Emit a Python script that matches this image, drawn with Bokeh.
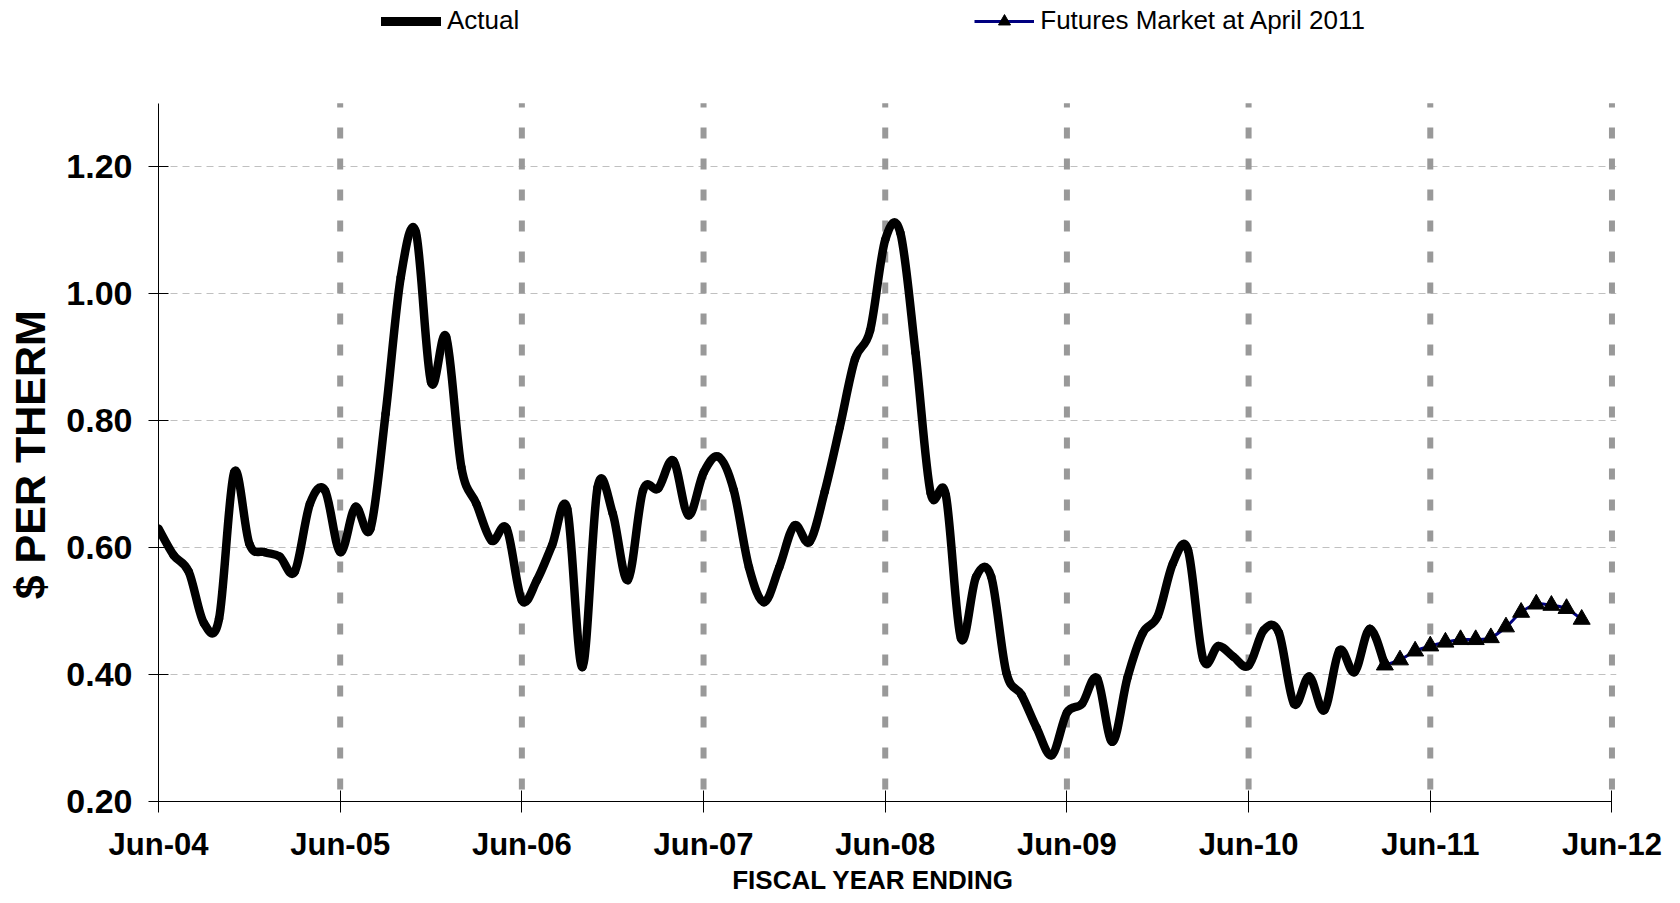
import numpy as np
from bokeh.plotting import figure
from bokeh.models import (FixedTicker, Legend, LegendItem, Range1d,
                          NumeralTickFormatter)
from bokeh.embed import file_html
from bokeh.resources import INLINE

# ---------------- data (months counted from Jun-2004) ----------------
actual_month = list(range(0, 82))
actual_price = [
    0.630, 0.588, 0.562, 0.481, 0.488, 0.719, 0.606, 0.593, 0.586, 0.562,
    0.669, 0.690, 0.593, 0.664, 0.630, 0.811, 1.026, 1.097, 0.861, 0.932,
    0.727, 0.669, 0.611, 0.630, 0.517, 0.549, 0.604, 0.661, 0.412, 0.695,
    0.654, 0.549, 0.690, 0.693, 0.737, 0.651, 0.718, 0.743, 0.690, 0.569,
    0.514, 0.569, 0.635, 0.609, 0.688, 0.790, 0.897, 0.942, 1.085, 1.096,
    0.907, 0.686, 0.683, 0.457, 0.554, 0.554, 0.403, 0.368, 0.316, 0.273,
    0.340, 0.354, 0.394, 0.294, 0.395, 0.465, 0.492, 0.575, 0.596, 0.424,
    0.445, 0.428, 0.414, 0.470, 0.466, 0.354, 0.397, 0.344, 0.438, 0.404,
    0.472, 0.415,
]
futures_month = list(range(81, 95))
futures_price = [0.415, 0.423, 0.437, 0.445, 0.451, 0.455, 0.455, 0.458,
                 0.475, 0.498, 0.511, 0.509, 0.504, 0.487]

tick_months = [0, 12, 24, 36, 48, 60, 72, 84, 96]
tick_labels = ["Jun-04", "Jun-05", "Jun-06", "Jun-07", "Jun-08",
               "Jun-09", "Jun-10", "Jun-11", "Jun-12"]
year_marks = tick_months[1:]
y_ticks = [0.2, 0.4, 0.6, 0.8, 1.0, 1.2]
y_grid = [0.4, 0.6, 0.8, 1.0, 1.2]
y_axis_span = (0.2, 1.3)
x_axis_span = (0, 96)

FONT = "Liberation Sans"
NB = "\u00a0"


def smooth_segments(xs, ys):
    """Catmull-Rom style bezier control points (Excel-like smoothing)."""
    x = np.asarray(xs, float)
    y = np.asarray(ys, float)
    xm = np.concatenate([[x[0]], x[:-2]])
    ym = np.concatenate([[y[0]], y[:-2]])
    x2 = np.concatenate([x[2:], [x[-1]]])
    y2 = np.concatenate([y[2:], [y[-1]]])
    x0, y0, x1, y1 = x[:-1], y[:-1], x[1:], y[1:]
    cx0 = x0 + (x1 - xm) / 6.0
    cy0 = y0 + (y1 - ym) / 6.0
    cx1 = x1 - (x2 - x0) / 6.0
    cy1 = y1 - (y2 - y0) / 6.0
    return dict(x0=x0, y0=y0, x1=x1, y1=y1, cx0=cx0, cy0=cy0, cx1=cx1, cy1=cy1)


# frame runs to the top of the canvas so that the legend can sit inside it;
# axis lines are bounded to the 0.20 - 1.30 / Jun-04 - Jun-12 spans
p = figure(width=1680, height=903,
           x_range=Range1d(0, 96.3), y_range=Range1d(0.2, 1.462),
           output_backend="svg", toolbar_location=None,
           min_border_left=158, min_border_right=64,
           min_border_top=0, min_border_bottom=102)
p.outline_line_color = None
p.background_fill_color = "white"
p.border_fill_color = "white"

# horizontal grid
p.ygrid.ticker = FixedTicker(ticks=y_grid)
p.ygrid.grid_line_color = "#c0c0c0"
p.ygrid.grid_line_width = 1
p.ygrid.grid_line_dash = "7 5"
p.xgrid.grid_line_color = None

# vertical year separators (thick grey dashes) between 0.20 and 1.30
n_marks = len(year_marks)
p.segment(x0=year_marks, y0=[y_axis_span[0]] * n_marks,
          x1=year_marks, y1=[y_axis_span[1]] * n_marks,
          line_color="#999999", line_width=6,
          line_dash="11 20", line_dash_offset=19)

# x axis
xa = p.xaxis[0]
xa.bounds = x_axis_span
xa.ticker = FixedTicker(ticks=tick_months)
xa.major_label_overrides = {m: l for m, l in zip(tick_months, tick_labels)}
xa.minor_tick_line_color = None
xa.major_tick_in = 11
xa.major_tick_out = 11
xa.axis_line_color = "black"
xa.major_tick_line_color = "black"
xa.major_label_text_font = FONT
xa.major_label_text_font_style = "bold"
xa.major_label_text_font_size = "31px"
xa.major_label_text_color = "black"
xa.major_label_standoff = 14
xa.axis_label = "FISCAL YEAR ENDING" + NB * 4
xa.axis_label_text_font = FONT
xa.axis_label_text_font_style = "bold"
xa.axis_label_text_font_size = "26px"
xa.axis_label_text_color = "black"
xa.axis_label_standoff = 0

# y axis
ya = p.yaxis[0]
ya.bounds = y_axis_span
ya.ticker = FixedTicker(ticks=y_ticks)
ya.formatter = NumeralTickFormatter(format="0.00")
ya.minor_tick_line_color = None
ya.major_tick_in = 10
ya.major_tick_out = 10
ya.axis_line_color = "black"
ya.major_tick_line_color = "black"
ya.major_label_text_font = FONT
ya.major_label_text_font_style = "bold"
ya.major_label_text_font_size = "34px"
ya.major_label_text_color = "black"
ya.major_label_standoff = 16
ya.axis_label = "$ PER THERM" + NB * 9
ya.axis_label_text_font = FONT
ya.axis_label_text_font_style = "bold"
ya.axis_label_text_font_size = "43px"
ya.axis_label_text_color = "black"
ya.axis_label_standoff = 9

# actual series (smoothed)
seg_a = smooth_segments(actual_month, actual_price)
p.bezier(x0=seg_a["x0"], y0=seg_a["y0"], x1=seg_a["x1"], y1=seg_a["y1"],
         cx0=seg_a["cx0"], cy0=seg_a["cy0"], cx1=seg_a["cx1"], cy1=seg_a["cy1"],
         line_color="black", line_width=8.5, line_cap="round")
leg_a = p.line(actual_month, actual_price, line_color="black", line_width=9,
               line_cap="round", visible=False)

# futures series
seg_f = smooth_segments(futures_month, futures_price)
p.bezier(x0=seg_f["x0"], y0=seg_f["y0"], x1=seg_f["x1"], y1=seg_f["y1"],
         cx0=seg_f["cx0"], cy0=seg_f["cy0"], cx1=seg_f["cx1"], cy1=seg_f["cy1"],
         line_color="#000080", line_width=3)
leg_f = p.line(futures_month, futures_price, line_color="#000080",
               line_width=3, visible=False)
sc_f = p.scatter(futures_month, futures_price, marker="triangle", size=17,
                 fill_color="black", line_color="black")

legend = Legend(items=[LegendItem(label="Actual", renderers=[leg_a]),
                       LegendItem(label="Futures Market at April 2011",
                                  renderers=[leg_f, sc_f])],
                orientation="horizontal", location=(223, 765),
                spacing=455, label_standoff=6, glyph_width=60, glyph_height=30,
                label_height=30,
                padding=0, margin=0, border_line_color=None,
                background_fill_alpha=0,
                label_text_font=FONT, label_text_font_size="26px",
                label_text_color="black")
p.add_layout(legend)

open("out.html", "w").write(file_html(p, INLINE))
